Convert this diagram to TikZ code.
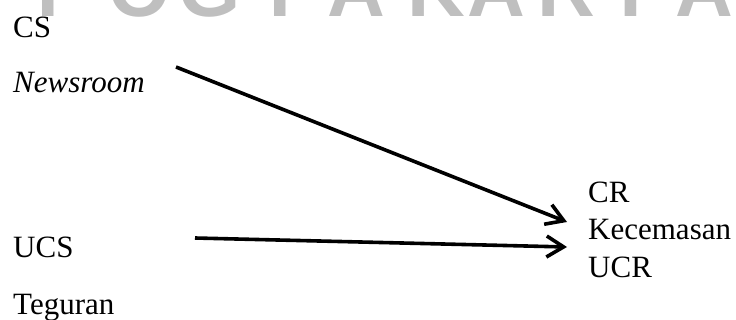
\documentclass[tikz,border=0pt]{standalone}
\usepackage{fontspec}
\setmainfont{Liberation Serif}
\newfontfamily\wmfont{Liberation Sans}
\usetikzlibrary{arrows.meta}
\begin{document}
\begin{tikzpicture}[x=1pt,y=-1pt,
  lbl/.style={anchor=base west,inner sep=0pt,font=\fontsize{31}{36}\selectfont},
  wm/.style={anchor=base,inner sep=0pt,text=black!25,font=\wmfont\bfseries\fontsize{80}{84}\selectfont},
  conn/.style={line width=3.6pt,-{Straight Barb[length=17pt,width=21pt,line width=3.6pt]}}]
\useasboundingbox (0,0) rectangle (736,320);
\begin{scope}
  \clip (0,0) rectangle (736,320);
  \foreach \l/\x [count=\i] in {Y/48,O/140,G/210,Y/280,A/356,K/436,A/496,R/566,T/631,A/704}
    \node[wm] (w\i) at (\x,17) {\l};
\end{scope}
\node[lbl] (cs) at (13,38) {CS};
\node[lbl] (news) at (13,93) {\textit{Newsroom}};
\node[lbl] (ucs) at (13,258) {UCS};
\node[lbl] (teg) at (13,314) {Teguran};
\node[lbl] (cr) at (588,203) {CR};
\node[lbl] (kec) at (588,240) {Kecemasan};
\node[lbl] (ucr) at (588,278) {UCR};
\coordinate (a1s) at (176,67);
\coordinate (a1e) at (567,222);
\coordinate (a2s) at (195,238);
\coordinate (a2e) at (567,247);
\draw[conn] (a1s) -- (a1e);
\draw[conn] (a2s) -- (a2e);
\end{tikzpicture}
\end{document}
